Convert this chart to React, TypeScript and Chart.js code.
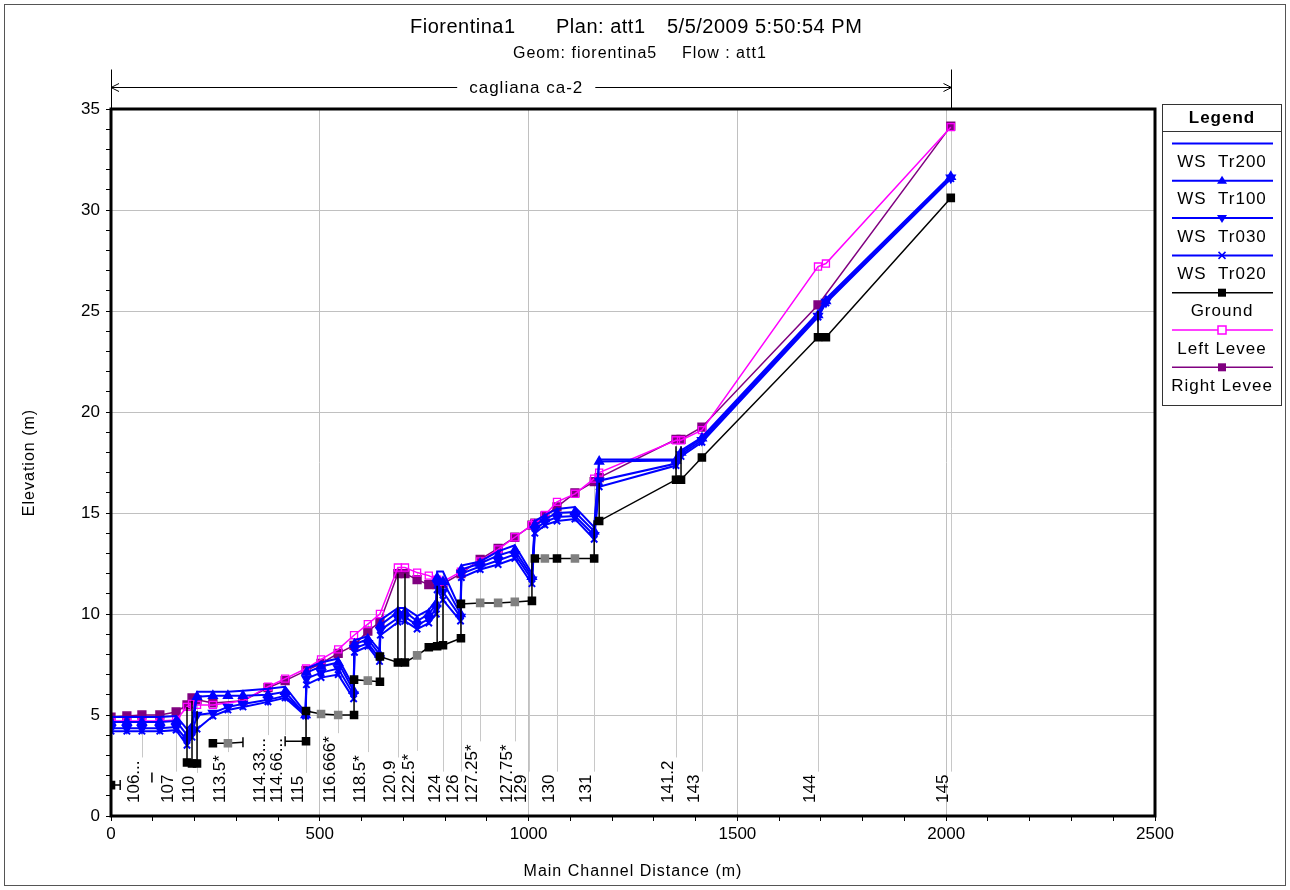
import React, { useEffect, useRef } from "react";
import { Chart, registerables } from "chart.js";

Chart.register(...registerables);

const FONT = "'Liberation Sans', Arial, Helvetica, sans-serif";
const BLUE = "#0000FF";
const MAG = "#FF00FF";
const PURPLE = "#800080";

// ---------- data ----------
const seriesNames = ["WS  Tr200", "WS  Tr100", "WS  Tr030", "WS  Tr020", "Ground", "Left Levee", "Right Levee"];

const wsX = [0, 38, 74, 117, 156, 182, 194, 206, 244, 280, 316, 376, 417, 466, 468, 503, 544, 581, 583, 615, 643, 645, 687, 704, 733, 761, 779, 781, 795, 837, 839, 884, 927, 967, 1008, 1015, 1039, 1068, 1111, 1157, 1169, 1353, 1365, 1415, 1693, 1712, 2011];
const wsTr200 = [4.9, 4.9, 4.9, 4.9, 4.95, 4.3, 4.6, 6.15, 6.15, 6.15, 6.2, 6.3, 6.4, 5.1, 7.3, 7.6, 7.8, 6.4, 8.7, 8.9, 8.2, 9.7, 10.3, 10.3, 9.9, 10.2, 10.7, 12.1, 12.1, 10.2, 12.4, 12.6, 13.1, 13.4, 12.0, 14.6, 14.9, 15.2, 15.3, 14.3, 17.65, 17.65, 18.1, 18.75, 24.9, 25.6, 31.7];
const wsTr100 = [4.65, 4.65, 4.65, 4.65, 4.7, 4.0, 4.3, 5.9, 5.95, 5.95, 5.95, 6.0, 6.15, 5.0, 7.1, 7.4, 7.6, 6.2, 8.5, 8.75, 8.0, 9.45, 10.1, 10.1, 9.65, 10.0, 10.5, 11.8, 11.6, 10.0, 12.2, 12.5, 12.9, 13.15, 11.85, 14.4, 14.7, 15.0, 15.05, 14.1, 17.55, 17.6, 18.0, 18.7, 24.8, 25.5, 31.65];
const wsTr030 = [4.35, 4.35, 4.35, 4.35, 4.4, 3.75, 4.1, 5.0, 5.1, 5.4, 5.55, 5.75, 5.95, 5.05, 6.8, 7.1, 7.3, 6.0, 8.3, 8.55, 7.8, 9.2, 9.8, 9.85, 9.45, 9.75, 10.3, 11.5, 11.1, 9.85, 12.0, 12.35, 12.65, 12.95, 11.7, 14.2, 14.55, 14.8, 14.85, 13.9, 16.6, 17.45, 17.9, 18.6, 24.75, 25.45, 31.6];
const wsTr020 = [4.2, 4.2, 4.2, 4.2, 4.25, 3.5, 3.9, 4.3, 4.95, 5.25, 5.4, 5.65, 5.85, 4.95, 6.5, 6.85, 7.0, 5.8, 8.1, 8.4, 7.65, 8.95, 9.6, 9.65, 9.25, 9.55, 10.0, 11.2, 10.7, 9.65, 11.8, 12.2, 12.45, 12.75, 11.5, 14.0, 14.4, 14.6, 14.7, 13.7, 16.3, 17.35, 17.8, 18.5, 24.7, 25.4, 31.55];

const levX = [0, 38, 74, 117, 156, 182, 194, 206, 244, 316, 376, 417, 467, 503, 544, 582, 615, 644, 687, 704, 733, 761, 781, 795, 838, 884, 927, 967, 1008, 1015, 1039, 1068, 1111, 1157, 1169, 1353, 1365, 1415, 1693, 1712, 2011];
const leftLevee = [4.7, 4.7, 4.7, 4.7, 4.75, 5.4, 5.55, 5.5, 5.5, 5.7, 6.4, 6.8, 7.3, 7.75, 8.25, 8.95, 9.5, 10.0, 12.3, 12.3, 12.05, 11.9, 11.7, 11.6, 12.1, 12.6, 13.2, 13.8, 14.4, 14.5, 14.9, 15.55, 15.95, 16.7, 17.0, 18.6, 18.6, 19.1, 27.2, 27.35, 34.1];
const rightLevee = [4.9, 4.95, 5.0, 5.0, 5.15, 5.5, 5.85, 5.75, 5.6, 5.7, 6.35, 6.7, 7.2, 7.55, 8.05, 8.45, 9.15, 9.6, 12.0, 12.0, 11.7, 11.45, 11.45, 11.5, 12.0, 12.7, 13.25, 13.8, 14.4, 14.5, 14.85, 15.3, 16.0, 16.55, 16.75, 18.65, 18.65, 19.25, 25.3, null, 34.15];

// ground profile, in drawing order (k = section, g = interpolated section, c = end cap, n = no marker)
const groundX = [
  0, 22, 22, 98, 98,
  182, 182, 194, 194, 194, 206, 206, 206,
  244, 280, 316, 316,
  417, 467, 467, 503, 544, 582, 582, 615, 644, 644,
  687, 687, 687, 704, 704, 704, 733, 761,
  781, 781, 781, 795, 795, 795, 838, 838,
  884, 927, 967, 1008, 1008, 1015, 1039, 1068, 1111, 1157, 1157,
  1169, 1169, 1169, 1353, 1353, 1353, 1365, 1365, 1365, 1415,
  1693, 1693, 1693, 1712, 2011,
];
const groundY = [
  1.53, 1.53, null, 1.9, null,
  5.4, 2.65, 2.6, 5.7, 2.6, 2.6, 5.2, null,
  3.6, 3.6, 3.65, null,
  3.7, 3.7, 5.2, 5.05, 5.0, 5.0, 6.75, 6.7, 6.65, 7.9,
  7.6, 12.0, 7.6, 7.6, 12.0, 7.6, 7.95, 8.35,
  8.4, 11.4, 8.4, 8.45, 11.4, 8.45, 8.8, 10.5,
  10.55, 10.55, 10.6, 10.65, 12.75, 12.75, 12.75, 12.75, 12.75, 12.75, 14.6,
  14.6, 16.5, 14.6, 16.65, 18.3, 16.65, 16.65, 18.3, 16.65, 17.75,
  23.7, 25.0, 23.7, 23.7, 30.6,
];
const groundKind = [
  "k", "c", "n", "c", "n",
  "n", "k", "k", "n", "n", "k", "n", "n",
  "k", "g", "c", "n",
  "c", "k", "k", "g", "g", "k", "k", "g", "k", "k",
  "k", "n", "n", "k", "n", "n", "g", "k",
  "k", "n", "n", "k", "n", "n", "k", "k",
  "g", "g", "g", "k", "n", "k", "g", "k", "g", "k", "n",
  "k", "n", "n", "k", "n", "n", "k", "n", "n", "k",
  "k", "n", "n", "k", "k",
];

// cross sections: river stations labelled along the bottom
const xsX = [74, 156, 206, 280, 376, 417, 467, 544, 615, 687, 733, 795, 838, 884, 967, 1000, 1068, 1157, 1353, 1415, 1693, 2011];
const xsLabels = ["106...", "107", "110", "113.5*", "114.33...", "114.66...", "115", "116.666*", "118.5*", "120.9", "122.5*", "124", "126", "127.25*", "127.75*", "129", "130", "131", "141.2", "143", "144", "145"];

const reachName = "cagliana ca-2";
const reachStart = 0;
const reachEnd = 2011;

const pts = (xs: number[], ys: (number | null)[]) => xs.map((x, i) => ({ x, y: ys[i] }));

// ---------- plugins ----------
const sectionPlugin = {
  id: "sections",
  beforeDatasetsDraw(chart: any) {
    const { ctx, scales } = chart;
    const x = scales.x, y = scales.y;
    ctx.save();
    ctx.font = `17px ${FONT}`;
    const baseY = y.getPixelForValue(0) - 13;
    xsX.forEach((sx, i) => {
      const px = Math.round(x.getPixelForValue(sx)) + 0.5;
      const label = xsLabels[i];
      const w = ctx.measureText(label).width;
      let top = -Infinity;
      chart.data.datasets.forEach((ds: any) =>
        ds.data.forEach((p: any) => {
          if (p.y != null && Math.abs(p.x - sx) <= 10) top = Math.max(top, p.y);
        })
      );
      if (top > -Infinity) {
        ctx.strokeStyle = "#C8C8C8";
        ctx.lineWidth = 1;
        ctx.beginPath();
        ctx.moveTo(px, baseY - w - 3);
        ctx.lineTo(px, y.getPixelForValue(top));
        ctx.stroke();
      }
      ctx.save();
      ctx.translate(px - 8, baseY);
      ctx.rotate(-Math.PI / 2);
      ctx.textAlign = "left";
      ctx.textBaseline = "middle";
      ctx.fillStyle = "#000";
      ctx.fillText(label, 0, 0);
      ctx.restore();
    });
    ctx.restore();
  },
};

function drawMarker(ctx: CanvasRenderingContext2D, kind: string, cx: number, cy: number, color: string) {
  ctx.fillStyle = color;
  ctx.strokeStyle = color;
  ctx.lineWidth = 1.5;
  if (kind === "tri") {
    ctx.beginPath();
    ctx.moveTo(cx, cy - 5);
    ctx.lineTo(cx + 5, cy + 3);
    ctx.lineTo(cx - 5, cy + 3);
    ctx.closePath();
    ctx.fill();
  } else if (kind === "triDown") {
    ctx.beginPath();
    ctx.moveTo(cx, cy + 5);
    ctx.lineTo(cx + 5, cy - 3);
    ctx.lineTo(cx - 5, cy - 3);
    ctx.closePath();
    ctx.fill();
  } else if (kind === "x") {
    ctx.beginPath();
    ctx.moveTo(cx - 3.5, cy - 3.5);
    ctx.lineTo(cx + 3.5, cy + 3.5);
    ctx.moveTo(cx + 3.5, cy - 3.5);
    ctx.lineTo(cx - 3.5, cy + 3.5);
    ctx.stroke();
  } else if (kind === "sq") {
    ctx.fillRect(cx - 4, cy - 4, 8, 8);
  } else if (kind === "sqOpen") {
    ctx.fillStyle = "#fff";
    ctx.fillRect(cx - 4, cy - 4, 8, 8);
    ctx.strokeRect(cx - 4, cy - 4, 8, 8);
  }
}

const decorPlugin = {
  id: "decor",
  afterDraw(chart: any) {
    const { ctx, chartArea: a, scales } = chart;
    const x = scales.x;
    ctx.save();

    // plot frame
    ctx.strokeStyle = "#000";
    ctx.lineWidth = 3;
    ctx.strokeRect(a.left, a.top, a.right - a.left, a.bottom - a.top);

    // outer frame
    ctx.lineWidth = 1;
    ctx.strokeStyle = "#555";
    ctx.strokeRect(4.5, 4.5, 1281, 881);

    // titles
    ctx.fillStyle = "#000";
    ctx.textBaseline = "middle";
    ctx.textAlign = "left";
    (ctx as any).letterSpacing = "0.5px";
    ctx.font = `20px ${FONT}`;
    ctx.fillText("Fiorentina1", 410, 27);
    ctx.fillText("Plan: att1", 556, 27);
    ctx.fillText("5/5/2009", 667, 27);
    ctx.fillText("5:50:54 PM", 755, 27);
    (ctx as any).letterSpacing = "1px";
    ctx.font = `16px ${FONT}`;
    ctx.fillText("Geom: fiorentina5", 513, 54);
    ctx.fillText("Flow : att1", 682, 54);

    // reach arrow
    const x0 = x.getPixelForValue(reachStart);
    const x1 = Math.round(x.getPixelForValue(reachEnd)) + 0.5;
    const ry = a.top - 21.5;
    ctx.font = `17px ${FONT}`;
    ctx.textAlign = "center";
    const cxText = (x0 + x1) / 2 - 5;
    const tw = ctx.measureText(reachName).width;
    ctx.fillText(reachName, cxText, ry + 1);
    ctx.strokeStyle = "#000";
    ctx.lineWidth = 1;
    ctx.beginPath();
    ctx.moveTo(x0, ry);
    ctx.lineTo(cxText - tw / 2 - 12, ry);
    ctx.moveTo(cxText + tw / 2 + 12, ry);
    ctx.lineTo(x1, ry);
    // arrowheads
    ctx.moveTo(x0 + 8, ry - 4);
    ctx.lineTo(x0, ry);
    ctx.lineTo(x0 + 8, ry + 4);
    ctx.moveTo(x1 - 8, ry - 4);
    ctx.lineTo(x1, ry);
    ctx.lineTo(x1 - 8, ry + 4);
    // end ticks
    ctx.moveTo(x0 + 0.5, ry - 18);
    ctx.lineTo(x0 + 0.5, a.top);
    ctx.moveTo(x1, ry - 18);
    ctx.lineTo(x1, a.top);
    ctx.stroke();

    // axis titles
    ctx.font = `16px ${FONT}`;
    ctx.textAlign = "center";
    ctx.fillText("Main Channel Distance (m)", (a.left + a.right) / 2, 872);
    ctx.save();
    ctx.translate(30, (a.top + a.bottom) / 2);
    ctx.rotate(-Math.PI / 2);
    ctx.fillText("Elevation (m)", 0, 0);
    ctx.restore();

    // legend
    const lx = 1162.5, ly = 104.5, lw = 119, lh = 301;
    ctx.fillStyle = "#fff";
    ctx.fillRect(lx, ly, lw, lh);
    ctx.strokeStyle = "#333";
    ctx.lineWidth = 1;
    ctx.strokeRect(lx, ly, lw, lh);
    ctx.beginPath();
    ctx.moveTo(lx, 131.5);
    ctx.lineTo(lx + lw, 131.5);
    ctx.stroke();
    ctx.fillStyle = "#000";
    ctx.font = `bold 17px ${FONT}`;
    ctx.fillText("Legend", lx + lw / 2, 118);
    const colors = [BLUE, BLUE, BLUE, BLUE, "#000", MAG, PURPLE];
    const markers = ["none", "tri", "triDown", "x", "sq", "sqOpen", "sq"];
    ctx.font = `17px ${FONT}`;
    seriesNames.forEach((name, i) => {
      const yLine = 143.5 + i * 37.3;
      ctx.strokeStyle = colors[i];
      ctx.lineWidth = i < 4 ? 2 : 1.5;
      ctx.beginPath();
      ctx.moveTo(1172, yLine);
      ctx.lineTo(1273, yLine);
      ctx.stroke();
      drawMarker(ctx, markers[i], 1222, yLine, colors[i]);
      ctx.fillStyle = "#000";
      ctx.fillText(name, 1222, yLine + 19);
    });
    (ctx as any).letterSpacing = "0px";
    ctx.restore();
  },
};

export default function App() {
  const ref = useRef<HTMLCanvasElement>(null);

  useEffect(() => {
    const canvas = ref.current!;
    const gColor = (c: any) => (groundKind[c.dataIndex] === "g" ? "#808080" : "#000");
    const chart = new Chart(canvas, {
      type: "line",
      data: {
        datasets: [
          {
            label: seriesNames[4], data: pts(groundX, groundY) as any, borderColor: "#000", borderWidth: 1.5,
            spanGaps: false, order: 1,
            pointStyle: ((c: any) => (groundKind[c.dataIndex] === "c" ? "line" : "rect")) as any,
            pointRotation: ((c: any) => (groundKind[c.dataIndex] === "c" ? 90 : 0)) as any,
            pointRadius: ((c: any) => (groundKind[c.dataIndex] === "n" ? 0 : 5)) as any,
            pointBackgroundColor: gColor as any, pointBorderColor: gColor as any, pointBorderWidth: 1.5,
          },
          {
            label: seriesNames[0], data: pts(wsX, wsTr200) as any, borderColor: BLUE, borderWidth: 2,
            pointRadius: 0, order: 2,
          },
          {
            label: seriesNames[1], data: pts(wsX, wsTr100) as any, borderColor: BLUE, borderWidth: 2,
            pointStyle: "triangle", pointRadius: 4.5, pointBackgroundColor: BLUE, pointBorderColor: BLUE, order: 2,
          },
          {
            label: seriesNames[2], data: pts(wsX, wsTr030) as any, borderColor: BLUE, borderWidth: 2,
            pointStyle: "triangle", pointRotation: 180, pointRadius: 4.5, pointBackgroundColor: BLUE, pointBorderColor: BLUE, order: 2,
          },
          {
            label: seriesNames[3], data: pts(wsX, wsTr020) as any, borderColor: BLUE, borderWidth: 2,
            pointStyle: "crossRot", pointRadius: 4.5, pointBorderWidth: 2, pointBackgroundColor: BLUE, pointBorderColor: BLUE, order: 2,
          },
          {
            label: seriesNames[5], data: pts(levX, leftLevee) as any, borderColor: MAG, borderWidth: 1.5, spanGaps: true,
            pointStyle: "rect", pointRadius: 5, pointBackgroundColor: "rgba(0,0,0,0)", pointBorderColor: MAG, pointBorderWidth: 1.3, order: 3,
          },
          {
            label: seriesNames[6], data: pts(levX, rightLevee) as any, borderColor: PURPLE, borderWidth: 1.5, spanGaps: true,
            pointStyle: "rect", pointRadius: 5.5, pointBackgroundColor: PURPLE, pointBorderColor: PURPLE, order: 4,
          },
        ],
      },
      options: {
        animation: false,
        responsive: false,
        events: [],
        layout: { padding: { top: 109, right: 135, left: 0, bottom: 0 } },
        plugins: { legend: { display: false }, tooltip: { enabled: false }, title: { display: false } },
        scales: {
          x: {
            type: "linear", min: 0, max: 2500,
            afterFit: (s: any) => { s.height = 74; },
            ticks: {
              stepSize: 100, autoSkip: false, maxRotation: 0, minRotation: 0, padding: 3, color: "#000",
              font: { family: FONT, size: 17 },
              callback: (v: any) => (Math.round(v) % 500 === 0 ? String(v) : ""),
            },
            grid: {
              color: (c: any) => (c.tick && Math.round(c.tick.value) % 500 === 0 ? "#C0C0C0" : "rgba(0,0,0,0)"),
              tickColor: "#000", tickLength: 5, lineWidth: 1,
            },
            border: { display: false },
          },
          y: {
            type: "linear", min: 0, max: 35,
            afterFit: (s: any) => { s.width = 111; },
            ticks: {
              stepSize: 1, autoSkip: false, padding: 6, color: "#000",
              font: { family: FONT, size: 17 },
              callback: (v: any) => (Math.round(v) % 5 === 0 ? String(v) : ""),
            },
            grid: {
              color: (c: any) => (c.tick && Math.round(c.tick.value) % 5 === 0 ? "#C0C0C0" : "rgba(0,0,0,0)"),
              tickColor: "#000", tickLength: 5, lineWidth: 1,
            },
            border: { display: false },
          },
        },
      },
      plugins: [sectionPlugin, decorPlugin],
    });
    return () => chart.destroy();
  }, []);

  return (
    <div style={{ position: "absolute", left: 0, top: 0, width: 1290, height: 890, background: "#fff" }}>
      <canvas ref={ref} width={1290} height={890} style={{ display: "block" }} />
    </div>
  );
}
